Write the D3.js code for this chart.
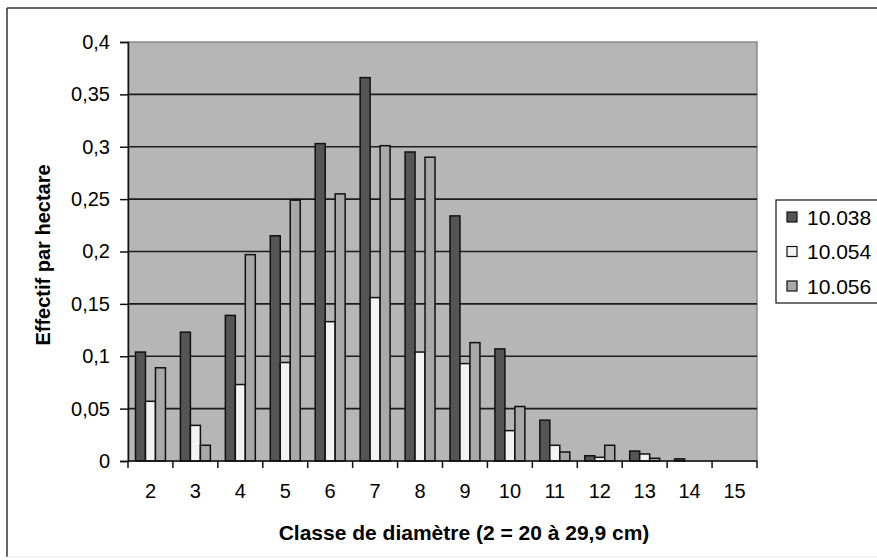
<!DOCTYPE html>
<html>
<head>
<meta charset="utf-8">
<script src="https://cdn.jsdelivr.net/npm/d3@7"></script>
<style>
    body { margin: 0; background: #fff; }
    svg { display: block; font-family: "Liberation Sans", Arial, sans-serif; }
</style>
</head>
<body>
<svg class="chart"></svg>
<script>
const categories = [`2`, `3`, `4`, `5`, `6`, `7`, `8`, `9`, `10`, `11`, `12`, `13`, `14`, `15`];
const seriesNames = [`10.038`, `10.054`, `10.056`];
const values10038 = [0.104, 0.123, 0.139, 0.215, 0.303, 0.366, 0.295, 0.234, 0.107, 0.039, 0.005, 0.0095, 0.002, 0];
const values10054 = [0.057, 0.034, 0.073, 0.094, 0.133, 0.156, 0.104, 0.093, 0.029, 0.015, 0.0035, 0.0067, 0, 0];
const values10056 = [0.089, 0.015, 0.197, 0.249, 0.255, 0.301, 0.290, 0.113, 0.052, 0.0086, 0.015, 0.0026, 0, 0];
const yTicks = [0, 0.05, 0.1, 0.15, 0.2, 0.25, 0.3, 0.35, 0.4];
const xTitle = `Classe de diamètre (2 = 20 à 29,9 cm)`;
const yTitle = `Effectif par hectare`;

const seriesValues = [values10038, values10054, values10056];
const colors = [`#555555`, `#f3f3f3`, `#a8a8a8`];

const width = 877;
const height = 560;
const plot = { left: 128, right: 757, top: 42, bottom: 461 };
const fontFamily = `"Liberation Sans", Arial, sans-serif`;

const locale = d3.formatLocale({ decimal: `,`, thousands: `.`, grouping: [3], currency: [``, `€`] });
const fmt = locale.format(`.2~f`);

const svg = d3.select(`.chart`)
    .attr(`width`, width)
    .attr(`height`, height);

// outer frame (runs off the right edge in the reference)
svg.append(`line`)
    .attr(`x1`, 7).attr(`x2`, width).attr(`y1`, 8).attr(`y2`, 8)
    .attr(`stroke`, `#333`).attr(`stroke-width`, 1.5);
svg.append(`line`)
    .attr(`x1`, 7).attr(`x2`, 7).attr(`y1`, 8).attr(`y2`, 557)
    .attr(`stroke`, `#333`).attr(`stroke-width`, 1.5);
svg.append(`line`)
    .attr(`x1`, 7).attr(`x2`, width).attr(`y1`, 557).attr(`y2`, 557)
    .attr(`stroke`, `#e4e4e4`).attr(`stroke-width`, 1);

const x0 = d3.scaleBand()
    .domain(categories)
    .range([plot.left, plot.right])
    .padding(0);

const x1 = d3.scaleBand()
    .domain(seriesNames)
    .range([0, x0.bandwidth()])
    .paddingInner(0)
    .paddingOuter(0.75);

const y = d3.scaleLinear()
    .domain([0, 0.4])
    .range([plot.bottom, plot.top]);

// plot background
svg.append(`rect`)
    .attr(`x`, plot.left)
    .attr(`y`, plot.top)
    .attr(`width`, plot.right - plot.left)
    .attr(`height`, plot.bottom - plot.top)
    .attr(`fill`, `#b6b6b6`)
    .attr(`stroke`, `#8a8a8a`)
    .attr(`stroke-width`, 1.5);

// gridlines
svg.append(`g`)
    .selectAll(`line`)
    .data(yTicks.filter(d => d > 0 && d < 0.4))
    .enter().append(`line`)
        .attr(`x1`, plot.left)
        .attr(`x2`, plot.right)
        .attr(`y1`, d => y(d))
        .attr(`y2`, d => y(d))
        .attr(`stroke`, `#1c1c1c`)
        .attr(`stroke-width`, 1.6);

// bars
const groups = svg.append(`g`)
    .selectAll(`g`)
    .data(categories)
    .enter().append(`g`)
        .attr(`transform`, d => `translate(${x0(d)}, 0)`);

groups.selectAll(`rect`)
    .data((d, i) => seriesNames.map((name, s) => ({ name, s, value: seriesValues[s][i] })))
    .enter().append(`rect`)
        .attr(`x`, d => x1(d.name))
        .attr(`y`, d => y(d.value))
        .attr(`width`, x1.bandwidth())
        .attr(`height`, d => y(0) - y(d.value))
        .attr(`fill`, d => colors[d.s])
        .attr(`stroke`, `#111`)
        .attr(`stroke-width`, 1.5);

// y axis
const yAxis = d3.axisLeft(y)
    .tickValues(yTicks)
    .tickSize(8)
    .tickPadding(10)
    .tickFormat(fmt);

const yAxisG = svg.append(`g`)
    .attr(`transform`, `translate(${plot.left}, 0)`)
    .call(yAxis);
yAxisG.select(`.domain`).attr(`stroke`, `#111`).attr(`stroke-width`, 1.5);
yAxisG.selectAll(`.tick line`).attr(`stroke`, `#111`).attr(`stroke-width`, 1.5);
yAxisG.selectAll(`text`)
    .attr(`font-size`, `20px`)
    .attr(`font-family`, fontFamily)
    .attr(`fill`, `#000`);

// x axis: labels at centres, ticks at category boundaries
const xAxis = d3.axisBottom(x0)
    .tickSize(0)
    .tickPadding(23);

const xAxisG = svg.append(`g`)
    .attr(`transform`, `translate(0, ${plot.bottom})`)
    .call(xAxis);
xAxisG.select(`.domain`).remove();
xAxisG.selectAll(`text`)
    .attr(`font-size`, `20px`)
    .attr(`font-family`, fontFamily)
    .attr(`fill`, `#000`);

svg.append(`line`)
    .attr(`x1`, plot.left).attr(`x2`, plot.right)
    .attr(`y1`, plot.bottom).attr(`y2`, plot.bottom)
    .attr(`stroke`, `#111`).attr(`stroke-width`, 1.5);

const boundaries = categories.map(c => x0(c)).concat([x0.range()[1]]);
svg.append(`g`)
    .selectAll(`line`)
    .data(boundaries)
    .enter().append(`line`)
        .attr(`x1`, d => d)
        .attr(`x2`, d => d)
        .attr(`y1`, plot.bottom)
        .attr(`y2`, plot.bottom + 7)
        .attr(`stroke`, `#111`)
        .attr(`stroke-width`, 1.5);

// axis titles
svg.append(`text`)
    .attr(`x`, 464)
    .attr(`y`, 540)
    .attr(`text-anchor`, `middle`)
    .attr(`font-size`, `21px`)
    .attr(`font-weight`, `bold`)
    .attr(`fill`, `#000`)
    .text(xTitle);

svg.append(`text`)
    .attr(`transform`, `translate(50, 255) rotate(-90)`)
    .attr(`text-anchor`, `middle`)
    .attr(`font-size`, `20px`)
    .attr(`font-weight`, `bold`)
    .attr(`fill`, `#000`)
    .text(yTitle);

// legend
const legend = svg.append(`g`);
legend.append(`rect`)
    .attr(`x`, 776)
    .attr(`y`, 200)
    .attr(`width`, 120)
    .attr(`height`, 103)
    .attr(`fill`, `#fff`)
    .attr(`stroke`, `#111`)
    .attr(`stroke-width`, 1.2);

const rows = legend.selectAll(`g`)
    .data(seriesNames)
    .enter().append(`g`)
        .attr(`transform`, (d, i) => `translate(787, ${217 + i * 34.5})`);

rows.append(`rect`)
    .attr(`x`, 0)
    .attr(`y`, -5)
    .attr(`width`, 10)
    .attr(`height`, 10)
    .attr(`fill`, (d, i) => colors[i])
    .attr(`stroke`, `#111`)
    .attr(`stroke-width`, 1.2);

rows.append(`text`)
    .attr(`x`, 20)
    .attr(`dy`, `0.36em`)
    .attr(`font-size`, `21px`)
    .attr(`fill`, `#000`)
    .text(d => d);
</script>
</body>
</html>
